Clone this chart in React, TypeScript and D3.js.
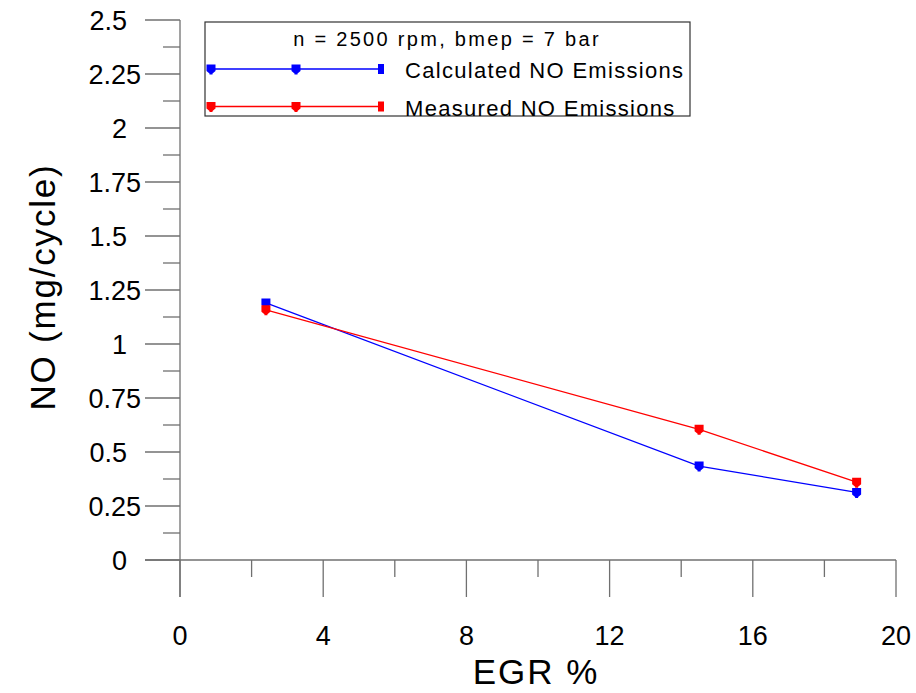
import React from "react";
import * as d3 from "d3";

const egr = [2.4, 14.5, 18.9];
const calculatedNO = [1.19, 0.435, 0.313];
const measuredNO = [1.158, 0.605, 0.36];
const xTicks = [0, 4, 8, 12, 16, 20];
const xMinorTicks = [2, 6, 10, 14, 18];
const yTicks = [0, 0.25, 0.5, 0.75, 1, 1.25, 1.5, 1.75, 2, 2.25, 2.5];
const yMinorTicks = [0.125, 0.375, 0.625, 0.875, 1.125, 1.375, 1.625, 1.875, 2.125, 2.375];
const legendTitle = "n = 2500 rpm, bmep = 7 bar";
const seriesNames = ["Calculated NO Emissions", "Measured NO Emissions"];
const seriesColors = ["#0000ff", "#ff0000"];
const xLabel = "EGR %";
const yLabel = "NO (mg/cycle)";

const W = 916;
const H = 693;
const FONT = "'Liberation Sans', Arial, Helvetica, sans-serif";
const AX = "#707070";

const markerPath = "M-4.5,-4.5 H4.5 V2 L1.5,4.5 V5.5 H-1.5 V4.5 L-4.5,2 Z";

export default function App() {
  const x = d3.scaleLinear().domain([0, 20]).range([180, 896]);
  const y = d3.scaleLinear().domain([0, 2.5]).range([560, 20]);
  const line = d3
    .line<[number, number]>()
    .x((d) => x(d[0]))
    .y((d) => y(d[1]));
  const series = [calculatedNO, measuredNO].map((vals) =>
    egr.map((e, i) => [e, vals[i]] as [number, number])
  );

  const legX0 = 211;
  const legX1 = 381;
  const legYs = [69, 106.5];

  return (
    <svg
      width={W}
      height={H}
      style={{ position: "absolute", left: 0, top: 0, background: "#fff" }}
      fontFamily={FONT}
    >
      <rect x={0} y={0} width={W} height={H} fill="#fff" />
      {/* axes lines */}
      <line x1={x(0)} x2={x(0)} y1={y(2.5)} y2={597} stroke={AX} strokeWidth={1.3} />
      <line x1={145} x2={x(20)} y1={y(0)} y2={y(0)} stroke={AX} strokeWidth={1.3} />
      {/* y ticks */}
      {yTicks.map((t) => (
        <line key={"yt" + t} x1={145} x2={x(0)} y1={y(t)} y2={y(t)} stroke={AX} strokeWidth={1.3} />
      ))}
      {yMinorTicks.map((t) => (
        <line key={"ym" + t} x1={163} x2={x(0)} y1={y(t)} y2={y(t)} stroke={AX} strokeWidth={1.3} />
      ))}
      {yTicks.map((t) => {
        const lab = String(t);
        const dec = lab.includes(".") ? lab.split(".")[1].length : 0;
        return (
          <text
            key={"yl" + t}
            x={dec === 2 ? 141 : 127}
            y={y(t)}
            dy="0.36em"
            textAnchor="end"
            fontSize={27}
            fill="#000"
          >
            {lab}
          </text>
        );
      })}
      {/* x ticks */}
      {xTicks.map((t) => (
        <line key={"xt" + t} x1={x(t)} x2={x(t)} y1={y(0)} y2={597} stroke={AX} strokeWidth={1.3} />
      ))}
      {xMinorTicks.map((t) => (
        <line key={"xm" + t} x1={x(t)} x2={x(t)} y1={y(0)} y2={577} stroke={AX} strokeWidth={1.3} />
      ))}
      {xTicks.map((t) => (
        <text key={"xl" + t} x={x(t)} y={645} textAnchor="middle" fontSize={27} fill="#000">
          {String(t)}
        </text>
      ))}
      {/* axis labels */}
      <text x={536} y={684} textAnchor="middle" fontSize={35} letterSpacing={2} fill="#000">
        {xLabel}
      </text>
      <text
        transform={`translate(55,287) rotate(-90)`}
        textAnchor="middle"
        fontSize={35}
        letterSpacing={1.8}
        fill="#000"
      >
        {yLabel}
      </text>
      {/* data */}
      {series.map((s, i) => (
        <g key={"s" + i}>
          <path d={line(s) || ""} fill="none" stroke={seriesColors[i]} strokeWidth={1.3} />
          {s.map((p, j) => (
            <path
              key={j}
              d={markerPath}
              transform={`translate(${x(p[0])},${y(p[1])})`}
              fill={seriesColors[i]}
            />
          ))}
        </g>
      ))}
      {/* legend */}
      <rect x={205} y={22} width={485} height={94} fill="none" stroke="#333" strokeWidth={1.2} />
      <text x={447} y={46} textAnchor="middle" fontSize={20} letterSpacing={2.3} fill="#000">
        {legendTitle}
      </text>
      {seriesNames.map((name, i) => (
        <g key={"lg" + i}>
          <line x1={legX0} x2={legX1} y1={legYs[i]} y2={legYs[i]} stroke={seriesColors[i]} strokeWidth={1.3} />
          {[legX0, (legX0 + legX1) / 2].map((mx, k) => (
            <path key={k} d={markerPath} transform={`translate(${mx},${legYs[i]})`} fill={seriesColors[i]} />
          ))}
          <rect x={legX1 - 3} y={legYs[i] - 5} width={6} height={10} fill={seriesColors[i]} />
          <text x={405} y={legYs[i] + 9} fontSize={22} letterSpacing={1.3} fill="#000">
            {name}
          </text>
        </g>
      ))}
    </svg>
  );
}
